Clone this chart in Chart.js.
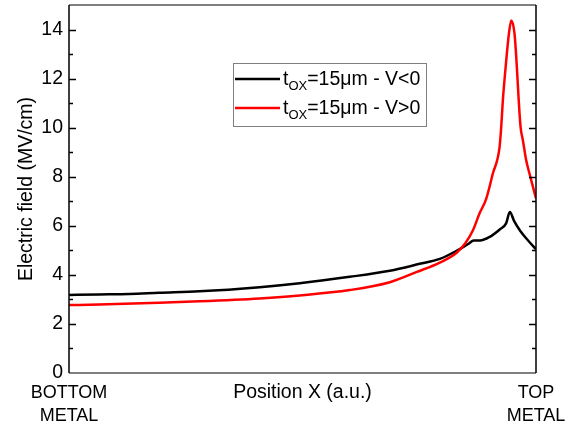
<!DOCTYPE html>
<html>
<head>
<meta charset="utf-8">
<script src="https://cdn.jsdelivr.net/npm/chart.js@4.4.1/dist/chart.umd.min.js"></script>
<style>
  html, body { margin: 0; padding: 0; background: #fff; }
  #box { width: 580px; height: 428px; }
</style>
</head>
<body>
<div id="box"><canvas id="fieldChart" width="580" height="428"></canvas></div>
<script>
// position along the oxide, 0 = bottom metal, 1 = top metal
const posNeg = [0, 0.064, 0.129, 0.193, 0.279, 0.408, 0.494, 0.601, 0.687, 0.751, 0.794, 0.830, 0.854, 0.867, 0.880, 0.901, 0.923, 0.936, 0.944, 0.953, 0.966, 0.983, 1.0];
const fieldNeg = [3.18, 3.20, 3.22, 3.27, 3.33, 3.50, 3.66, 3.92, 4.17, 4.45, 4.65, 4.98, 5.25, 5.40, 5.40, 5.55, 5.86, 6.10, 6.56, 6.20, 5.80, 5.40, 5.05];

const posPos = [0, 0.064, 0.193, 0.279, 0.408, 0.494, 0.601, 0.687, 0.745, 0.794, 0.830, 0.849, 0.865, 0.879, 0.8935, 0.9076, 0.922, 0.9255, 0.929, 0.935, 0.942, 0.947, 0.954, 0.959, 0.963, 0.967, 0.972, 0.979, 0.986, 1.0];
const fieldPos = [2.77, 2.79, 2.86, 2.92, 3.04, 3.16, 3.38, 3.70, 4.12, 4.50, 4.90, 5.30, 5.82, 6.50, 7.11, 8.13, 9.21, 10.02, 11.11, 12.47, 13.83, 14.37, 13.83, 12.47, 11.11, 10.02, 9.48, 8.67, 8.13, 7.12];

const yTicks = [0, 2, 4, 6, 8, 10, 12, 14];
const xTickLabels = { 0: ['BOTTOM', 'METAL'], 1: ['TOP', 'METAL'] };
const seriesNames = [['t', 'OX', '=15\u03bcm - V<0'], ['t', 'OX', '=15\u03bcm - V>0']];
const seriesColors = ['#000000', '#ff0000'];

const FONT = 'Arial, "Liberation Sans", sans-serif';

const toXY = (xs, ys) => xs.map((x, i) => ({ x: x, y: ys[i] }));

// frame, inward ticks, legend and x title
const decor = {
  id: 'decor',
  afterDraw(chart) {
    const ctx = chart.ctx;
    const a = chart.chartArea;
    const ys = chart.scales.y;
    ctx.save();
    // frame
    ctx.lineWidth = 1.5;
    ctx.strokeStyle = '#555';
    ctx.beginPath();
    ctx.moveTo(a.left, a.top); ctx.lineTo(a.right, a.top);
    ctx.moveTo(a.left, a.bottom); ctx.lineTo(a.right, a.bottom);
    ctx.stroke();
    ctx.strokeStyle = '#000';
    ctx.beginPath();
    ctx.moveTo(a.left, a.top); ctx.lineTo(a.left, a.bottom);
    ctx.moveTo(a.right, a.top); ctx.lineTo(a.right, a.bottom);
    ctx.stroke();
    // ticks pointing inwards
    ctx.lineWidth = 1.3;
    for (let v = 1; v <= 14; v++) {
      const py = Math.round(ys.getPixelForValue(v)) + 0.5;
      const len = v % 2 === 0 ? 7 : 4;
      ctx.beginPath();
      ctx.moveTo(a.left, py); ctx.lineTo(a.left + len, py);
      ctx.moveTo(a.right, py); ctx.lineTo(a.right - len, py);
      ctx.stroke();
    }
    // legend
    ctx.lineWidth = 1;
    ctx.strokeStyle = '#7f7f7f';
    ctx.strokeRect(233.5, 63.5, 193, 63);
    seriesNames.forEach((parts, i) => {
      const cy = 79 + i * 29;
      ctx.strokeStyle = seriesColors[i];
      ctx.lineWidth = 2.5;
      ctx.beginPath();
      ctx.moveTo(235, cy); ctx.lineTo(280, cy);
      ctx.stroke();
      ctx.fillStyle = '#000';
      ctx.textBaseline = 'alphabetic';
      let x = 283;
      ctx.font = '19.5px ' + FONT;
      ctx.fillText(parts[0], x, cy + 6);
      x += ctx.measureText(parts[0]).width;
      ctx.font = '13px ' + FONT;
      ctx.fillText(parts[1], x, cy + 11);
      x += ctx.measureText(parts[1]).width;
      ctx.font = '19.5px ' + FONT;
      ctx.fillText(parts[2], x, cy + 6);
    });
    // x axis title
    ctx.font = '19.5px ' + FONT;
    ctx.textAlign = 'center';
    ctx.textBaseline = 'middle';
    ctx.fillText('Position X (a.u.)', (a.left + a.right) / 2, 393);
    ctx.restore();
  }
};

const config = {
  type: 'scatter',
  data: {
    datasets: [
      {
        label: 'V<0',
        data: toXY(posNeg, fieldNeg),
        borderColor: seriesColors[0],
        borderWidth: 2.5,
        showLine: true,
        pointRadius: 0,
        cubicInterpolationMode: 'monotone',
        order: 1
      },
      {
        label: 'V>0',
        data: toXY(posPos, fieldPos),
        borderColor: seriesColors[1],
        borderWidth: 2.5,
        showLine: true,
        pointRadius: 0,
        cubicInterpolationMode: 'monotone',
        order: 0
      }
    ]
  },
  options: {
    responsive: false,
    animation: false,
    layout: { padding: { top: 5, right: 44, left: 0, bottom: 0 } },
    plugins: {
      legend: { display: false },
      tooltip: { enabled: false }
    },
    scales: {
      x: {
        type: 'linear',
        min: 0,
        max: 1,
        afterBuildTicks: (scale) => { scale.ticks = [{ value: 0 }, { value: 1 }]; },
        afterFit: (scale) => { scale.height = 55; scale.paddingLeft = 0; scale.paddingRight = 0; },
        grid: { display: false, drawTicks: false },
        border: { display: false },
        ticks: {
          autoSkip: false,
          maxRotation: 0,
          padding: 9,
          color: '#000',
          font: { family: FONT, size: 18, lineHeight: 1.25 },
          callback: (v) => xTickLabels[v] || ''
        }
      },
      y: {
        min: 0,
        max: 15,
        afterBuildTicks: (scale) => { scale.ticks = yTicks.map(v => ({ value: v })); },
        afterFit: (scale) => { scale.width = 69; scale.paddingTop = 0; scale.paddingBottom = 0; },
        grid: { display: false, drawTicks: false },
        border: { display: false },
        ticks: {
          padding: 6,
          color: '#000',
          font: { family: FONT, size: 19.5 }
        },
        title: {
          display: true,
          text: 'Electric field (MV/cm)',
          color: '#000',
          font: { family: FONT, size: 19.5 },
          padding: { top: 15, bottom: 0 }
        }
      }
    }
  },
  plugins: [decor]
};

const ctx = document.getElementById('fieldChart').getContext('2d');
const chart = new Chart(ctx, config);
</script>
</body>
</html>
